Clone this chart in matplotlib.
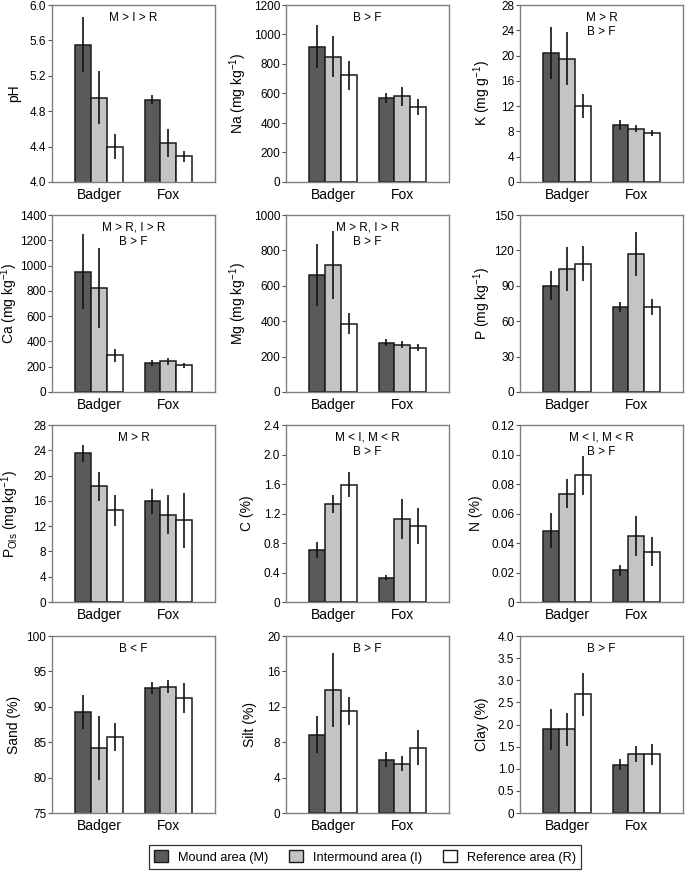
import numpy as np
import matplotlib
matplotlib.use("Agg")
import matplotlib.pyplot as plt
from matplotlib.patches import Patch

plt.rcParams["font.family"] = ["Liberation Sans", "DejaVu Sans"]
plt.rcParams["mathtext.default"] = "regular"

groups = ["Badger", "Fox"]
areas = ["Mound area (M)", "Intermound area (I)", "Reference area (R)"]

# means per variable: [Badger M, I, R], [Fox M, I, R]; errors same shape
ph_mean = [[5.55, 4.95, 4.40], [4.93, 4.44, 4.29]]
ph_err = [[0.31, 0.30, 0.14], [0.05, 0.155, 0.06]]
na_mean = [[917, 849, 724], [570, 580, 509]]
na_err = [[147, 140, 98], [33, 63, 52]]
k_mean = [[20.4, 19.5, 12.0], [9.0, 8.4, 7.7]]
k_err = [[4.15, 4.2, 1.85], [0.8, 0.55, 0.47]]
ca_mean = [[953, 822, 289], [231, 242, 210]]
ca_err = [[294, 318, 50], [22, 30, 20]]
mg_mean = [[659, 715, 386], [278, 268, 251]]
mg_err = [[175, 192, 61], [20, 22, 20]]
p_mean = [[90.0, 104.1, 108.6], [72.0, 117.0, 72.0]]
p_err = [[12.3, 18.6, 14.8], [4.0, 19.0, 7.0]]
pols_mean = [[23.5, 18.3, 14.5], [15.9, 13.8, 12.9]]
pols_err = [[1.4, 2.3, 2.5], [2.0, 3.1, 4.4]]
c_mean = [[0.71, 1.33, 1.59], [0.33, 1.13, 1.03]]
c_err = [[0.11, 0.12, 0.17], [0.035, 0.27, 0.24]]
n_mean = [[0.0484, 0.0734, 0.0858], [0.0216, 0.0446, 0.034]]
n_err = [[0.012, 0.010, 0.013], [0.0037, 0.0135, 0.0098]]
sand_mean = [[89.2, 84.2, 85.75], [92.7, 92.83, 91.27]]
sand_err = [[2.4, 4.5, 2.0], [0.85, 0.95, 2.1]]
silt_mean = [[8.87, 13.89, 11.51], [6.04, 5.58, 7.4]]
silt_err = [[2.1, 4.2, 1.55], [0.83, 0.83, 1.95]]
clay_mean = [[1.89, 1.89, 2.68], [1.09, 1.33, 1.33]]
clay_err = [[0.46, 0.37, 0.48], [0.125, 0.18, 0.24]]

panels = [
    ("pH", ph_mean, ph_err, (4.0, 6.0), [4.0, 4.4, 4.8, 5.2, 5.6, 6.0],
     ["4.0", "4.4", "4.8", "5.2", "5.6", "6.0"], "M > I > R"),
    ("Na (mg kg$^{-1}$)", na_mean, na_err, (0, 1200), [0, 200, 400, 600, 800, 1000, 1200],
     None, "B > F"),
    ("K (mg g$^{-1}$)", k_mean, k_err, (0, 28), [0, 4, 8, 12, 16, 20, 24, 28],
     None, "M > R\nB > F"),
    ("Ca (mg kg$^{-1}$)", ca_mean, ca_err, (0, 1400), [0, 200, 400, 600, 800, 1000, 1200, 1400],
     None, "M > R, I > R\nB > F"),
    ("Mg (mg kg$^{-1}$)", mg_mean, mg_err, (0, 1000), [0, 200, 400, 600, 800, 1000],
     None, "M > R, I > R\nB > F"),
    ("P (mg kg$^{-1}$)", p_mean, p_err, (0, 150), [0, 30, 60, 90, 120, 150],
     None, ""),
    ("P$_{Ols}$ (mg kg$^{-1}$)", pols_mean, pols_err, (0, 28), [0, 4, 8, 12, 16, 20, 24, 28],
     None, "M > R"),
    ("C (%)", c_mean, c_err, (0, 2.4), [0, 0.4, 0.8, 1.2, 1.6, 2.0, 2.4],
     ["0", "0.4", "0.8", "1.2", "1.6", "2.0", "2.4"], "M < I, M < R\nB > F"),
    ("N (%)", n_mean, n_err, (0, 0.12), [0, 0.02, 0.04, 0.06, 0.08, 0.10, 0.12],
     ["0", "0.02", "0.04", "0.06", "0.08", "0.10", "0.12"], "M < I, M < R\nB > F"),
    ("Sand (%)", sand_mean, sand_err, (75, 100), [75, 80, 85, 90, 95, 100],
     None, "B < F"),
    ("Silt (%)", silt_mean, silt_err, (0, 20), [0, 4, 8, 12, 16, 20],
     None, "B > F"),
    ("Clay (%)", clay_mean, clay_err, (0, 4.0), [0, 0.5, 1.0, 1.5, 2.0, 2.5, 3.0, 3.5, 4.0],
     ["0", "0.5", "1.0", "1.5", "2.0", "2.5", "3.0", "3.5", "4.0"], "B > F"),
]

colors = ["#5a5a5a", "#c4c4c4", "#ffffff"]
W, H = 685, 872
fig = plt.figure(figsize=(W / 100, H / 100), dpi=100)

col_left = [52, 286, 520]
row_top = [5, 215, 425, 636]
ax_w, ax_h = 163, 177
bw = 0.23
x = np.arange(len(groups))
# right edge of each y label, px left of the axis
label_off = [31, 37, 27, 32, 37, 27, 31, 32, 37, 31, 29, 31]

for i, (ylab, mean, err, ylim, ticks, tlabels, note) in enumerate(panels):
    r, c = divmod(i, 3)
    ax = fig.add_axes([col_left[c] / W, 1 - (row_top[r] + ax_h) / H, ax_w / W, ax_h / H])
    mean = np.array(mean)
    err = np.array(err)
    for j in range(3):
        pos = x + (j - 1) * bw
        ax.bar(pos, mean[:, j], width=bw, color=colors[j], edgecolor="#1a1a1a",
               linewidth=1.1, zorder=2)
        ax.errorbar(pos, mean[:, j], yerr=err[:, j], fmt="none", ecolor="#111111",
                    elinewidth=1.2, capsize=0, zorder=3)
    ax.set_xlim(-0.685, 1.675)
    ax.set_ylim(*ylim)
    ax.set_yticks(ticks)
    if tlabels is not None:
        ax.set_yticklabels(tlabels)
    ax.set_xticks(x)
    ax.set_xticklabels(groups, fontsize=10)
    ax.tick_params(axis="x", length=0, pad=4)
    ax.tick_params(axis="y", length=3, labelsize=8.5, width=0.8, color="#555555", pad=1.2)
    for s in ax.spines.values():
        s.set_color("#808080")
        s.set_linewidth(1.0)
    ax.set_ylabel(ylab, fontsize=10)
    ax.yaxis.set_label_coords(-label_off[i] / ax_w, 0.5)
    if note:
        ax.text(0.5, 0.962, note, transform=ax.transAxes, ha="center", va="top",
                fontsize=8.5, linespacing=1.3)

handles = [Patch(facecolor=colors[j], edgecolor="#1a1a1a", linewidth=1.0, label=areas[j])
           for j in range(3)]
leg = fig.legend(handles=handles, loc="center", ncol=3, bbox_to_anchor=(365 / W, 1 - 857 / H),
                 fontsize=9.2, frameon=True, fancybox=False, edgecolor="black",
                 handlelength=1.1, handleheight=1.0, handletextpad=0.8, columnspacing=1.6,
                 borderpad=0.4)
leg.get_frame().set_linewidth(0.9)

fig.savefig("out.png", dpi=100)
